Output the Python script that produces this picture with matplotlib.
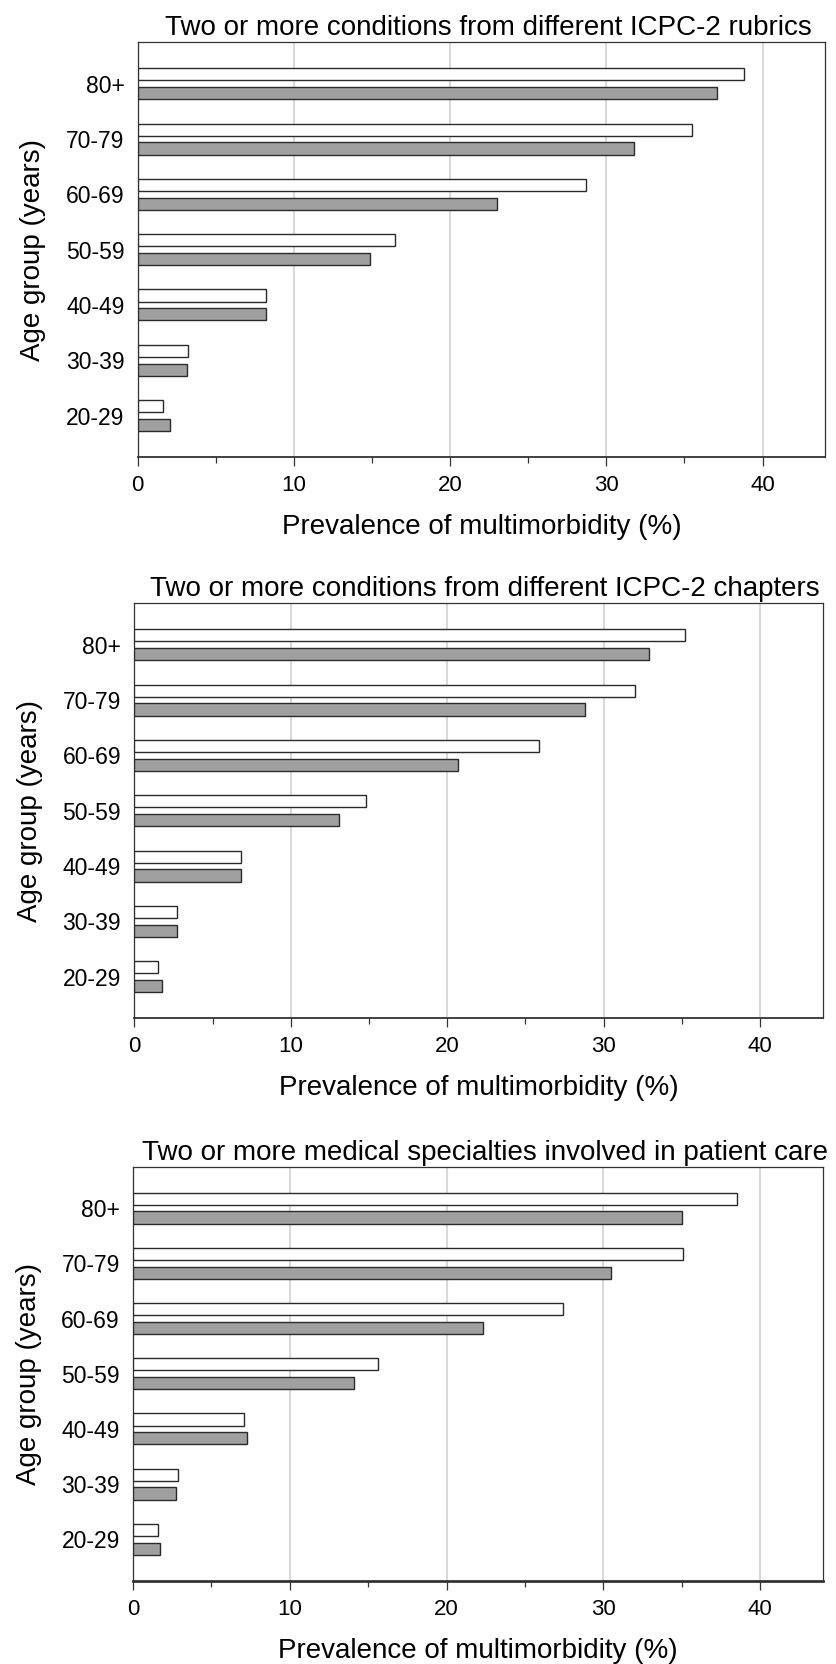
import numpy as np
import matplotlib
matplotlib.use("Agg")
import matplotlib.pyplot as plt
from matplotlib.ticker import MultipleLocator

# age groups, bottom to top
ages = ['20-29', '30-39', '40-49', '50-59', '60-69', '70-79', '80+']

titles = ['Two or more conditions from different ICPC-2 rubrics',
          'Two or more conditions from different ICPC-2 chapters',
          'Two or more medical specialties involved in patient care']

# white bars (upper in each group)
rubrics_white = [1.6, 3.2, 8.2, 16.5, 28.7, 35.5, 38.8]
chapters_white = [1.5, 2.75, 6.8, 14.8, 25.9, 32.0, 35.2]
special_white = [1.6, 2.9, 7.05, 15.6, 27.4, 35.1, 38.5]

# grey bars (lower in each group)
rubrics_grey = [2.05, 3.15, 8.2, 14.9, 23.0, 31.8, 37.1]
chapters_grey = [1.75, 2.75, 6.8, 13.1, 20.7, 28.8, 32.9]
special_grey = [1.75, 2.75, 7.3, 14.1, 22.3, 30.5, 35.0]

whites = [rubrics_white, chapters_white, special_white]
greys = [rubrics_grey, chapters_grey, special_grey]

plt.rcParams['font.family'] = ['Liberation Sans', 'DejaVu Sans']

W, H = 837, 1664
fig = plt.figure(figsize=(W/100, H/100), dpi=100)

# axes boxes in pixels: left, top, right, bottom
boxes = [(137.7, 42.3, 825, 457),
         (134.3, 603.3, 822.5, 1018.3),
         (133, 1166.7, 823, 1580.7)]
bottom_lw = [1.3, 1.3, 2.0]

bh = 0.22
off = 0.17
y = np.arange(len(ages))

for i in range(3):
    l, t, r, b = boxes[i]
    ax = fig.add_axes([l/W, 1-b/H, (r-l)/W, (b-t)/H])
    ax.barh(y + off, whites[i], height=bh, color='white', edgecolor='#2b2b2b', linewidth=1.0, zorder=3)
    ax.barh(y - off, greys[i], height=bh, color='#a0a0a0', edgecolor='#2b2b2b', linewidth=1.0, zorder=3)
    ax.set_xlim(0, 44)
    ax.set_ylim(-0.75, 6.75)
    ax.set_yticks(y)
    ax.set_yticklabels(ages, fontsize=16.5)
    ax.xaxis.set_major_locator(MultipleLocator(10))
    ax.xaxis.set_minor_locator(MultipleLocator(5))
    ax.tick_params(axis='x', labelsize=16)
    ax.tick_params(axis='y', length=0, pad=9.5)
    ax.tick_params(axis='x', which='major', direction='out', length=6.5, width=0.9, color='#333333', pad=6.5)
    ax.tick_params(axis='x', which='minor', direction='out', length=4.3, width=0.9, color='#333333')
    ax.grid(axis='x', color='#d9d9d9', linewidth=1.5, zorder=0)
    for s in ax.spines.values():
        s.set_color('#333333')
        s.set_linewidth(0.9)
    ax.spines['bottom'].set_linewidth(bottom_lw[i])
    ax.set_title(titles[i], fontsize=20, pad=5, x=0.51)
    ax.set_xlabel('Prevalence of multimorbidity (%)', fontsize=20, labelpad=13)
    ax.set_ylabel('Age group (years)', fontsize=20, labelpad=14)

fig.savefig('out.png', dpi=100)
